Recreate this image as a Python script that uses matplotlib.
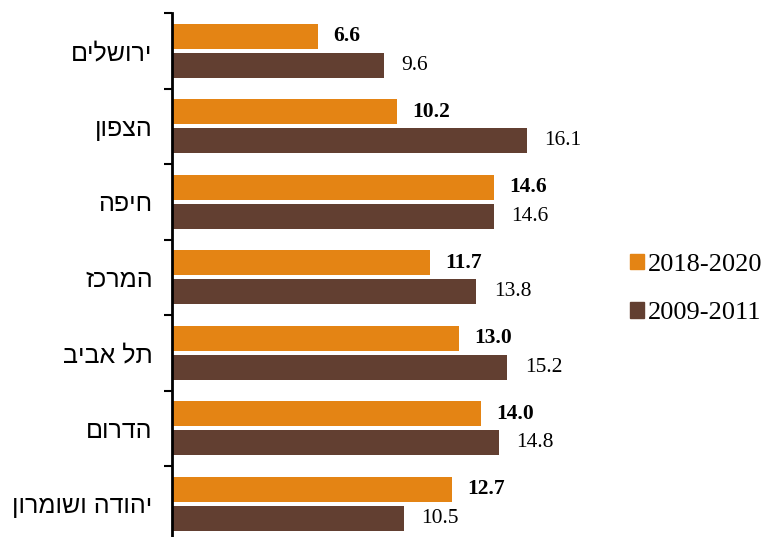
import numpy as np
import matplotlib.pyplot as plt
from matplotlib.patches import Patch

# regions (logical Hebrew order)
regions = ['ירושלים', 'הצפון', 'חיפה', 'המרכז', 'תל אביב', 'הדרום', 'יהודה ושומרון']
vals_2018 = [6.6, 10.2, 14.6, 11.7, 13.0, 14.0, 12.7]
vals_2009 = [9.6, 16.1, 14.6, 13.8, 15.2, 14.8, 10.5]

c_new = '#E48414'
c_old = '#623F31'

fig = plt.figure(figsize=(7.67, 5.37), dpi=100)
ax = fig.add_axes([172/767, 0, (600-172)/767, 524/537])

y = np.arange(len(regions))
h = 0.33
off = 0.19
ax.barh(y - off, vals_2018, height=h, color=c_new, label='2018-2020')
ax.barh(y + off, vals_2009, height=h, color=c_old, label='2009-2011')

for yi, v in zip(y, vals_2018):
    ax.annotate(f'{v:.1f}', (v, yi - off), xytext=(11, 0), textcoords='offset points',
                va='center', ha='left', fontsize=15.5, fontweight='bold', family='Liberation Serif')
for yi, v in zip(y, vals_2009):
    ax.annotate(f'{v:.1f}', (v, yi + off), xytext=(12.5, 0), textcoords='offset points',
                va='center', ha='left', fontsize=15.5, family='Liberation Serif')

ax.set_xlim(0, 19.4)
ax.set_ylim(6.44, -0.5)

# matplotlib has no bidi support, so reverse the Hebrew for display
ax.set_yticks(y)
ax.set_yticklabels([r[::-1] for r in regions], fontsize=18, family='Liberation Sans')
ax.tick_params(axis='y', which='major', length=0, pad=14)
ax.set_yticks(np.arange(-0.5, 6.5, 1), minor=True)
ax.tick_params(axis='y', which='minor', length=6, width=1.5, direction='out')
ax.set_xticks([])

for s in ['top', 'right', 'bottom']:
    ax.spines[s].set_visible(False)
ax.spines['left'].set_linewidth(2)

handles = [Patch(color=c_new, label='2018-2020'), Patch(color=c_old, label='2009-2011')]
fig.legend(handles=handles, loc='center left', bbox_to_anchor=(630/767, 1 - 289/537),
           frameon=False, prop={'family': 'Liberation Serif', 'size': 19},
           borderpad=0, borderaxespad=0,
           handlelength=0.52, handleheight=0.52, handletextpad=0.15, labelspacing=1.0)

fig.savefig('out.png', dpi=100)
